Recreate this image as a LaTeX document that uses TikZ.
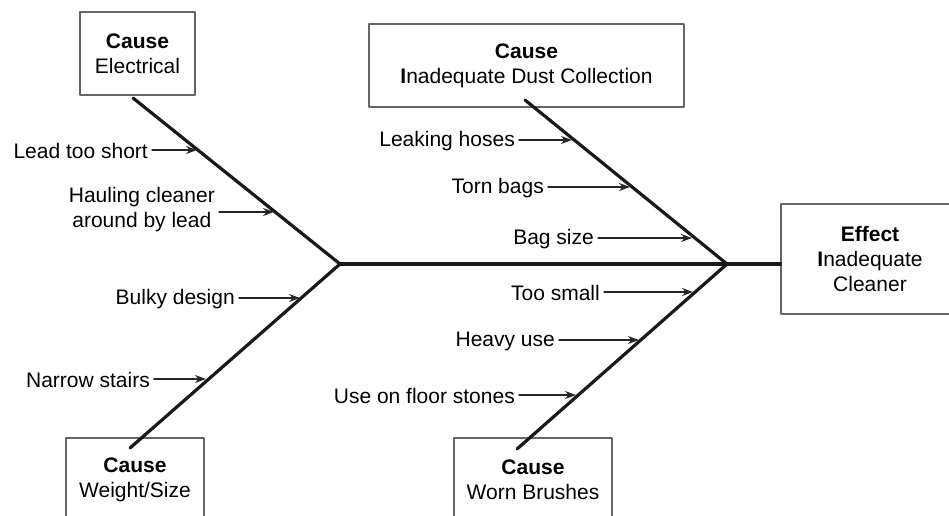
\documentclass[tikz,border=0pt]{standalone}
\usepackage{fontspec}
\setmainfont{Liberation Sans}
\usetikzlibrary{arrows.meta}
\begin{document}
\begin{tikzpicture}[x=1pt, y=-1pt, font=\fontsize{21}{25}\selectfont, line join=round, line cap=round, >={Stealth[length=11pt,width=8pt]},
	box/.style={draw=black!60, line width=1.2pt, align=center, inner sep=0pt},
	lbl/.style={align=center, inner sep=4pt, anchor=east},
	bone/.style={line width=3.2pt, draw=black!90},
	tick/.style={->, line width=1.5pt, draw=black!85}]
		\useasboundingbox (0,0) rectangle (949,515);
		\clip (0,0) rectangle (949,515);
		% boxes
		\node[box, minimum width=115, minimum height=83] (elec) at (137.5,53.5) {\textbf{Cause}\\Electrical};
		\node[box, minimum width=315, minimum height=83] (dust) at (526.5,65.5) {\textbf{Cause}\\{\bfseries I}nadequate Dust Collection};
		\node[box, minimum width=138, minimum height=83] (size) at (135,479.5) {\textbf{Cause}\\Weight/Size};
		\node[box, minimum width=158, minimum height=83] (brush) at (533,479.5) {\textbf{Cause}\\Worn Brushes};
		\node[box, minimum width=178, minimum height=110] (eff) at (870,259) {\textbf{Effect}\\{\bfseries I}nadequate\\Cleaner};
		% spine and bones
		\coordinate (jL) at (340,264);
		\coordinate (jR) at (727,264);
		\coordinate (eTop) at (133,98);
		\coordinate (dTop) at (525,100);
		\coordinate (sBot) at (130,448);
		\coordinate (bBot) at (517,449);
		\draw[bone] (jL) -- (jR -| eff.west);
		\draw[bone] (eTop) -- (jL) -- (sBot);
		\draw[bone] (dTop) -- (jR) -- (bBot);
		% sub causes
		\node[lbl] (l1) at (152,151) {Lead too short};
		\node[lbl] (l2) at (219,210) {Hauling cleaner\\around by lead};
		\node[lbl] (l3) at (239,299) {Bulky design};
		\node[lbl] (l4) at (154,380) {Narrow stairs};
		\node[lbl] (l5) at (519,141) {Leaking hoses};
		\node[lbl] (l6) at (548,188) {Torn bags};
		\node[lbl] (l7) at (598,239) {Bag size};
		\node[lbl] (l8) at (604,293) {Too small};
		\node[lbl] (l9) at (559,341) {Heavy use};
		\node[lbl] (l10) at (519,396) {Use on floor stones};
		\coordinate (t1) at (197,150);
		\coordinate (t2) at (274,212);
		\coordinate (t3) at (300,298);
		\coordinate (t4) at (206,379);
		\coordinate (t5) at (572,140);
		\coordinate (t6) at (630,187);
		\coordinate (t7) at (692,238);
		\coordinate (t8) at (693,292);
		\coordinate (t9) at (639,340);
		\coordinate (t10) at (576,395);
		\foreach \i in {1,...,10}\draw[tick](l\i.east |- t\i)--(t\i);
		
	\end{tikzpicture}
\end{document}
